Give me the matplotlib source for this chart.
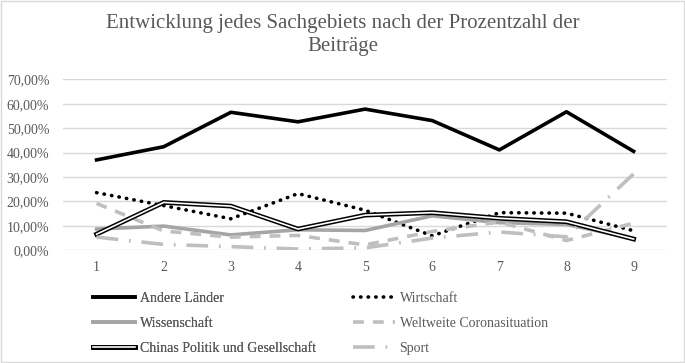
import matplotlib.pyplot as plt
from matplotlib.lines import Line2D
from matplotlib.patches import Rectangle
from matplotlib.ticker import FuncFormatter

plt.rcParams['font.family'] = ['Liberation Serif', 'DejaVu Serif']

x = [1, 2, 3, 4, 5, 6, 7, 8, 9]
andere = [37.0, 42.4, 56.5, 52.6, 57.8, 53.1, 41.1, 56.7, 40.5]
wirtschaft = [23.6, 18.3, 12.9, 23.2, 16.4, 5.9, 15.4, 15.2, 8.0]
wissenschaft = [8.7, 9.9, 6.3, 8.4, 8.1, 14.1, 11.3, 10.6, 4.8]
corona = [19.2, 7.9, 5.4, 6.1, 2.2, 7.7, 11.6, 4.0, 11.1]
china = [6.6, 19.6, 18.1, 8.7, 14.4, 15.4, 13.1, 11.7, 4.6]
sport = [5.4, 2.4, 1.5, 0.5, 1.0, 5.0, 7.5, 5.5, 31.3]

grey = '#595959'

fig = plt.figure(figsize=(6.85, 3.63), dpi=100)
ax = fig.add_axes([0.092, 0.3105, 0.882, 0.471])

ax.plot(x, andere, color='black', lw=2.6, solid_joinstyle='round')
ax.plot(x, wirtschaft, color='black', lw=2.6, linestyle=(0, (0.1, 2)), dash_capstyle='round')
ax.plot(x, wissenschaft, color='#a5a5a5', lw=2.6)
ax.plot(x, corona, color='#bfbfbf', lw=2.6, linestyle=(0, (3, 2.5)))
ax.plot(x, china, color='black', lw=3.4)
ax.plot(x, china, color='white', lw=1.2)
ax.plot(x, sport, color='#bfbfbf', lw=2.6, linestyle=(0, (6, 3, 0.5, 3)))

ax.set_xlim(0.5, 9.5)
ax.set_ylim(0, 70)
ax.set_yticks(range(0, 71, 10))
ax.set_xticks(x)
ax.yaxis.set_major_formatter(FuncFormatter(lambda v, p: f"{v:.2f}%".replace('.', ',')))
ax.grid(axis='y', color='#d9d9d9', lw=1)
ax.set_axisbelow(True)
for s in ax.spines.values():
    s.set_visible(False)
ax.tick_params(length=0, labelsize=10, colors=grey)
ax.tick_params(axis='x', pad=8)
ax.tick_params(axis='y', pad=10)

fig.text(0.5, 0.903, "Entwicklung jedes Sachgebiets nach der Prozentzahl der\nBeiträge",
         ha='center', va='center', fontsize=15, color=grey, linespacing=1.3)

h_andere = Line2D([], [], color='black', lw=2.6)
h_wiss = Line2D([], [], color='#a5a5a5', lw=2.6)
h_china = (Line2D([], [], color='black', lw=3.4), Line2D([], [], color='white', lw=1.2))
h_wirt = Line2D([], [], color='black', lw=2.6, linestyle=(0, (0.1, 2)), dash_capstyle='round')
h_corona = Line2D([], [], color='#bfbfbf', lw=2.6, linestyle=(0, (3, 2.5)))
h_sport = Line2D([], [], color='#bfbfbf', lw=2.6, linestyle=(0, (6, 3, 0.5, 3)))

kw = dict(frameon=False, fontsize=10, handlelength=3, handletextpad=0.35,
          labelspacing=0.85, borderpad=0, borderaxespad=0, labelcolor=grey)
leg1 = fig.legend([h_andere, h_wiss, h_china],
                  ["Andere Länder", "Wissenschaft", "Chinas Politik und Gesellschaft"],
                  loc='upper left', bbox_to_anchor=(93 / 685, 1 - 292 / 363), **kw)
fig.add_artist(leg1)
fig.legend([h_wirt, h_corona, h_sport],
           ["Wirtschaft", "Weltweite Coronasituation", "Sport"],
           loc='upper left', bbox_to_anchor=(353 / 685, 1 - 292 / 363), **kw)

fig.patches.append(Rectangle((0.001, 0.002), 0.997, 0.995, transform=fig.transFigure,
                             fill=False, edgecolor='#d9d9d9', lw=1))

fig.savefig("out.png", dpi=100)
